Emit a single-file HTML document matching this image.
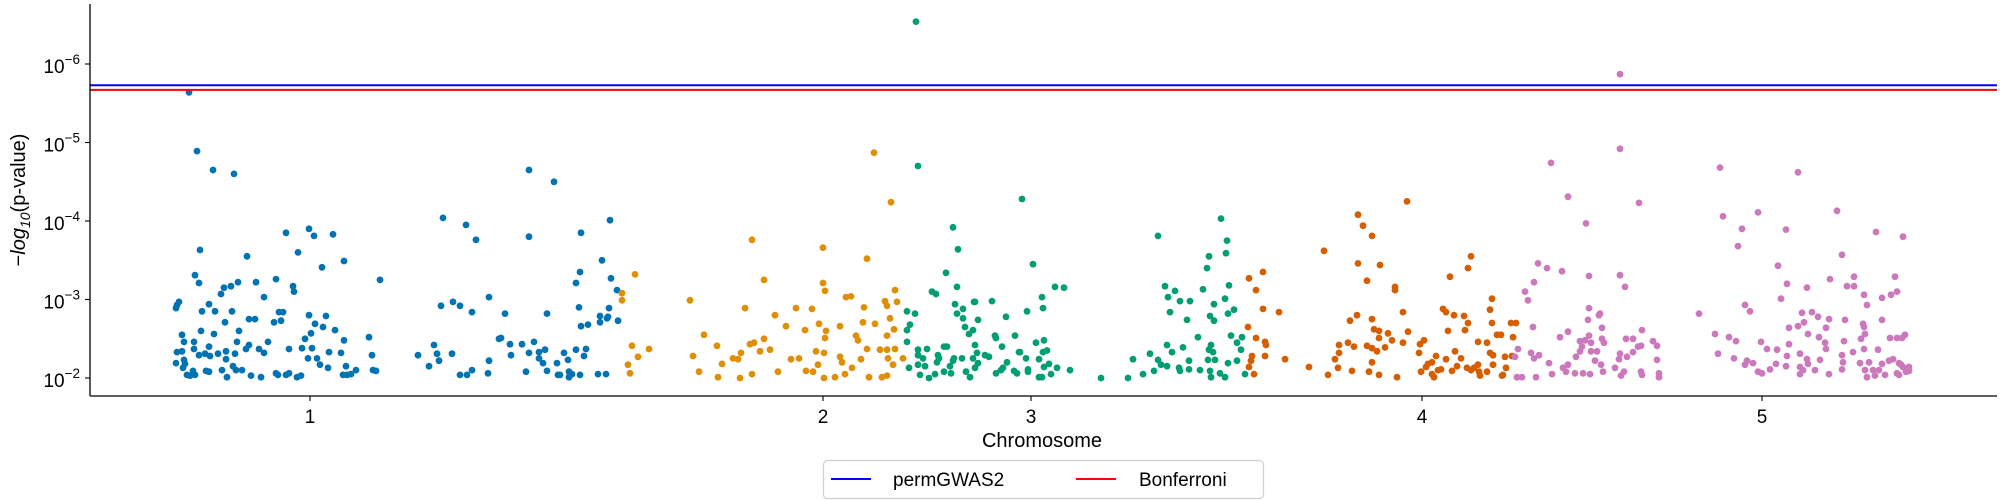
<!DOCTYPE html>
<html>
<head>
<meta charset="utf-8">
<style>
  html, body { margin: 0; padding: 0; background: #fff; }
  svg { display: block; font-family: "Liberation Sans", "DejaVu Sans", sans-serif; }
</style>
</head>
<body>
<svg id="chart" width="2000" height="500" viewBox="0 0 2000 500" xmlns="http://www.w3.org/2000/svg">
  <g id="points"></g>
  <g id="thresholds"></g>
  <g id="axes"></g>
  <g id="legend"></g>
</svg>
<script>
// ---- data (position in Mb cumulative, log10 p-value) ----
const chromosomes = ["1", "2", "3", "4", "5"];
const chromTickPositions = [22.0, 73.3, 94.1, 133.2, 167.2];
const yTickValues = [-2, -3, -4, -5, -6];
const thresholdNames = ["permGWAS2", "Bonferroni"];
const thresholdValues = [-5.73, -5.67];
const chromColors = ["#0173b2", "#de8f05", "#029e73", "#d55e00", "#cc78bc"];
const thresholdColors = ["#0000ff", "#ff0000"];

const chr1Points = [[9.9,-5.64],[10.7,-4.89],[12.3,-4.65],[14.4,-4.60],[35.3,-4.04],[37.6,-3.95],[38.6,-3.76],[43.9,-3.80],[43.9,-4.65],[46.4,-4.50],[21.9,-3.90],[19.6,-3.85],[22.4,-3.81],[24.3,-3.83],[11.0,-3.63],[15.7,-3.55],[20.8,-3.60],[25.4,-3.49],[23.2,-3.41],[10.5,-3.31],[10.9,-3.21],[18.6,-3.26],[29.0,-3.25],[16.6,-3.22],[14.8,-3.22],[14.1,-3.17],[13.4,-3.15],[20.3,-3.17],[20.4,-3.10],[13.1,-3.07],[17.4,-3.03],[39.9,-3.03],
[8.6,-2.89],[8.7,-2.93],[8.9,-2.97],[11.9,-2.94],[11.2,-2.85],[12.5,-2.85],[14.2,-2.85],[13.5,-2.71],[15.9,-2.75],[16.5,-2.75],[18.4,-2.71],[18.9,-2.84],[19.3,-2.84],[19.1,-2.73],[21.9,-2.80],[23.6,-2.79],[22.5,-2.69],[11.1,-2.60],[12.4,-2.56],[9.2,-2.55],[14.9,-2.60],[22.1,-2.57],[23.3,-2.65],[24.5,-2.61],[25.4,-2.48],[27.9,-2.52],[21.5,-2.50],[17.8,-2.46],[14.7,-2.46],[15.9,-2.42],[9.4,-2.46],[10.4,-2.46],[11.9,-2.40],[8.7,-2.33],[9.2,-2.34],[10.4,-2.37],[10.9,-2.29],[11.5,-2.31],[12.0,-2.28],[12.8,-2.31],[13.6,-2.34],[14.5,-2.31],[15.6,-2.37],[16.9,-2.37],[17.4,-2.32],[19.9,-2.37],[21.2,-2.38],[22.2,-2.38],[21.8,-2.25],[22.7,-2.25],[23.9,-2.33],[25.1,-2.32],[28.2,-2.29],[8.6,-2.19],[9.4,-2.23],[9.5,-2.18],[9.3,-2.13],[13.6,-2.24],[14.3,-2.15],[14.6,-2.10],[15.2,-2.10],[13.2,-2.10],[11.6,-2.09],[11.9,-2.08],[9.7,-2.04],[10.0,-2.03],[10.5,-2.04],[10.3,-2.09],[13.7,-2.01],[16.1,-2.03],[17.1,-2.01],[18.6,-2.06],[18.8,-2.04],[19.6,-2.04],[19.9,-2.06],[20.7,-2.01],[21.1,-2.03],[23.0,-2.17],[23.8,-2.13],[25.6,-2.15],[25.3,-2.04],[25.7,-2.04],[26.1,-2.05],[26.6,-2.10],[28.3,-2.10],[28.6,-2.09],
[32.8,-2.29],[33.9,-2.15],[34.4,-2.42],[34.7,-2.31],[34.9,-2.22],[35.1,-2.92],[36.3,-2.97],[37.0,-2.92],[36.2,-2.31],[37.0,-2.04],[37.7,-2.04],[38.2,-2.10],[38.2,-2.84],[39.9,-2.22],[39.8,-2.06],[40.9,-2.50],[41.1,-2.51],[41.5,-2.82],[42.0,-2.43],[42.1,-2.29],[43.2,-2.43],[43.6,-2.08],[43.9,-2.32],[44.4,-2.46],[44.9,-2.33],[44.9,-2.25],[45.3,-2.19],[45.5,-2.36],[45.7,-2.82],[45.7,-2.09],[46.7,-2.19],[46.8,-2.04],
[49.1,-3.85],[52.0,-4.01],[51.2,-3.50],[49.0,-3.35],[48.6,-3.21],[52.1,-3.27],[52.7,-3.12],[48.9,-2.90],[51.9,-2.89],[51.0,-2.79],[51.8,-2.78],[51.7,-2.76],[51.0,-2.71],[52.8,-2.73],[49.1,-2.66],[49.8,-2.68],[47.4,-2.32],[48.6,-2.36],[49.6,-2.37],[49.4,-2.28],[47.8,-2.23],[47.0,-2.04],[47.9,-2.08],[48.2,-2.05],[47.9,-2.01],[49.0,-2.04],[50.8,-2.05],[51.6,-2.05]];

const chr2Points = [[78.4,-4.87],[80.1,-4.24],[66.2,-3.76],[73.3,-3.66],[77.7,-3.52],[54.5,-3.32],[67.4,-3.25],[73.3,-3.21],[73.5,-3.11],[75.6,-3.03],[76.1,-3.04],[80.5,-3.12],[79.5,-2.98],[79.7,-2.92],[80.7,-2.97],[77.4,-2.90],[60.0,-2.99],[65.5,-2.89],[70.6,-2.89],[72.2,-2.88],[68.5,-2.80],[53.2,-3.08],[53.2,-2.99],[80.0,-2.76],
[69.6,-2.66],[72.9,-2.69],[71.5,-2.61],[73.6,-2.60],[75.0,-2.66],[77.3,-2.71],[78.5,-2.69],[80.4,-2.62],[79.7,-2.54],[76.6,-2.54],[76.8,-2.48],[73.5,-2.51],[61.4,-2.55],[62.7,-2.41],[66.0,-2.43],[66.4,-2.45],[67.4,-2.50],[67.0,-2.34],[68.0,-2.36],[54.2,-2.41],[55.9,-2.37],[54.8,-2.27],[60.3,-2.28],[63.2,-2.18],[64.3,-2.25],[64.8,-2.24],[65.1,-2.32],[70.1,-2.24],[70.9,-2.25],[72.6,-2.34],[73.4,-2.32],[75.0,-2.27],[75.2,-2.20],[77.1,-2.24],[77.7,-2.37],[79.0,-2.36],[79.7,-2.36],[79.8,-2.25],[80.5,-2.37],[81.3,-2.25],[80.3,-2.17],[53.8,-2.17],[54.0,-2.06],[60.9,-2.08],[62.8,-2.01],[65.0,-2.00],[66.2,-2.05],[68.8,-2.08],[71.6,-2.09],[72.3,-2.08],[72.8,-2.17],[73.4,-2.00],[74.5,-2.01],[75.5,-2.05],[76.2,-2.13],[77.9,-2.01],[79.2,-2.01],[79.7,-2.03]];

const chr3Points = [[82.6,-6.54],[82.8,-4.70],[86.3,-3.92],[86.8,-3.64],[85.6,-3.34],[86.7,-3.16],[84.2,-3.10],[84.6,-3.07],[86.5,-2.94],[87.3,-2.88],[88.4,-2.97],[81.7,-2.85],[82.5,-2.82],[86.7,-2.82],
[93.2,-4.28],[94.3,-3.45],[96.5,-3.16],[97.4,-3.15],[95.2,-3.03],[95.3,-2.89],[93.7,-2.85],[90.2,-2.98],[88.5,-2.97],[91.6,-2.78],[106.8,-3.81],[113.1,-4.03],[113.7,-3.75],[113.6,-3.59],[111.9,-3.55],[111.7,-3.40],[107.5,-3.17],[107.8,-3.03],[108.5,-3.11],[109.0,-2.98],[110.0,-2.98],[111.3,-3.13],[113.9,-3.18],[113.5,-3.01],[112.4,-2.94],[108.0,-2.84],[114.4,-2.87],[113.8,-2.82],[112.0,-2.79],
[93.0,-2.33],[93.6,-2.25],[93.8,-2.11],[94.6,-2.45],[94.9,-2.24],[95.2,-2.01],[95.3,-2.33],[95.4,-2.48],[95.7,-2.35],[95.9,-2.18],[95.4,-2.14],[96.1,-2.05],[96.7,-2.13],[98.0,-2.10],[101.1,-2.00],[103.8,-2.00],[104.3,-2.24],[105.3,-2.05],[106.0,-2.31],[106.4,-2.09],[106.8,-2.23],[107.1,-2.17],[107.7,-2.42],[107.7,-2.15],[108.2,-2.33],[108.9,-2.13],[109.0,-2.09],[109.3,-2.39],[109.9,-2.22],[109.9,-2.11],[109.7,-2.74],[110.8,-2.52],[111.0,-2.10],[111.8,-2.23],[111.9,-2.36],[112.1,-2.42],[112.3,-2.33],[112.5,-2.23],[112.0,-2.09],[112.1,-2.01],[113.0,-2.06],[113.5,-2.01],[113.8,-2.19],[114.1,-2.54],[114.7,-2.45],[114.7,-2.22],[115.1,-2.36],[115.2,-2.52],[115.5,-2.05],[112.4,-2.73],
[82.0,-2.68],[81.7,-2.61],[81.7,-2.46],[81.9,-2.13],[83.0,-2.04],[82.8,-2.36],[82.8,-2.29],[83.3,-2.25],[83.7,-2.37],[82.8,-2.17],[83.5,-2.15],[83.9,-2.00],[84.5,-2.05],[84.8,-2.29],[84.9,-2.25],[84.7,-2.20],[85.4,-2.40],[85.7,-2.40],[85.4,-2.08],[86.1,-2.06],[86.0,-2.15],[86.3,-2.22],[86.4,-2.25],[87.2,-2.25],[87.3,-2.76],[87.5,-2.65],[87.9,-2.56],[88.3,-2.61],[88.8,-2.74],[88.5,-2.42],[88.7,-2.32],[88.3,-2.25],[88.8,-2.19],[88.5,-2.13],[87.6,-2.08],[88.0,-2.01],[89.5,-2.29],[89.9,-2.27],[90.5,-2.54],[90.6,-2.51],[91.2,-2.40],[91.7,-2.20],[92.5,-2.54],[92.9,-2.33],[90.6,-2.06],[91.1,-2.10],[91.3,-2.13],[92.4,-2.09],[92.7,-2.06],[93.8,-2.08],[94.9,-2.01]];

const chr4Points = [[126.8,-4.08],[127.3,-3.94],[128.2,-3.81],[131.7,-4.25],[123.4,-3.62],[126.8,-3.46],[129.0,-3.44],[115.9,-3.27],[117.3,-3.35],[116.6,-3.12],[127.7,-3.24],[130.5,-3.16],[130.5,-3.12],[136.0,-3.29],[117.3,-2.88],[118.9,-2.84],[126.7,-2.80],[131.3,-2.84],[135.3,-2.88],[135.6,-2.84],[136.4,-2.80],
[115.8,-2.65],[116.6,-2.51],[117.5,-2.46],[117.6,-2.42],[117.5,-2.28],[116.2,-2.28],[116.1,-2.22],[115.9,-2.14],[116.4,-2.05],[119.5,-2.24],[121.9,-2.14],[123.8,-2.04],[124.5,-2.24],[124.8,-2.13],[124.9,-2.32],[124.9,-2.42],[125.8,-2.45],[126.0,-2.73],[126.2,-2.09],[126.4,-2.40],[127.7,-2.41],[128.2,-2.38],[128.2,-2.75],[128.4,-2.62],[128.9,-2.60],[128.9,-2.51],[128.7,-2.34],[128.2,-2.20],[127.9,-2.08],[128.9,-2.04],[129.5,-2.39],[129.8,-2.57],[130.2,-2.48],[130.7,-2.01],[131.3,-2.45],[131.8,-2.59],[132.9,-2.32],[133.0,-2.43],[133.4,-2.48],[133.1,-2.08],[133.6,-2.14],[133.8,-2.18],[134.2,-2.20],[134.6,-2.28],[134.2,-2.05],[134.4,-2.01],[134.8,-2.10],[135.1,-2.11],[135.6,-2.24],[135.8,-2.60],[136.2,-2.09],[136.5,-2.34],[136.7,-2.15],[137.1,-2.25],[137.4,-2.79],[137.5,-2.61],[137.8,-2.70],[137.8,-3.40],[138.1,-3.55],[137.7,-2.13],[138.1,-2.10],[138.4,-2.13],[138.8,-2.46],[138.8,-2.17],[138.9,-2.08],[139.0,-2.03],[139.7,-2.08],[139.7,-2.45],[140.0,-2.32],[140.3,-2.29],[140.0,-2.87],[140.2,-3.01],[140.2,-2.70],[140.3,-2.17],[140.7,-2.55],[141.1,-2.55],[141.2,-2.03],[141.5,-2.27],[141.6,-2.13],[142.1,-2.70],[142.6,-2.70],[142.3,-2.52],[142.2,-2.28],[141.3,-2.04]];

const chr5Points = [[153.0,-5.87],[153.0,-4.92],[146.1,-4.74],[147.8,-4.31],[154.9,-4.23],[149.6,-3.97],[163.0,-4.68],[170.8,-4.62],[163.3,-4.06],[166.8,-4.11],[174.7,-4.13],[165.2,-3.90],[169.6,-3.89],[178.6,-3.86],[181.3,-3.80],[164.8,-3.68],[175.2,-3.57],[168.8,-3.43],[144.8,-3.46],[145.7,-3.40],[147.2,-3.36],[149.9,-3.30],[153.0,-3.31],[153.5,-3.16],[144.4,-3.22],[143.5,-3.10],[143.8,-2.99],[149.9,-2.89],[151.0,-2.82],[160.9,-2.82],[165.5,-2.93],[166.0,-2.85],[169.1,-3.01],[169.7,-3.20],[171.7,-3.15],[174.0,-3.26],[175.7,-3.17],[176.4,-3.29],[176.4,-3.17],[177.4,-3.06],[177.7,-2.93],[179.2,-3.02],[180.1,-3.06],[180.5,-3.29],[180.7,-3.10],[171.2,-2.83],[172.2,-2.84],[172.8,-2.78],
[142.8,-2.37],[142.5,-2.27],[142.7,-2.01],[143.2,-2.01],[144.1,-2.32],[144.3,-2.65],[144.4,-2.25],[144.9,-2.29],[144.6,-2.01],[145.9,-2.19],[146.2,-2.05],[147.0,-2.52],[147.8,-2.59],[147.3,-2.13],[147.6,-2.08],[147.8,-2.17],[148.6,-2.27],[149.0,-2.47],[149.2,-2.40],[149.0,-2.34],[149.5,-2.48],[149.8,-2.74],[149.9,-2.54],[150.1,-2.45],[150.1,-2.34],[150.7,-2.34],[150.5,-2.22],[151.2,-2.64],[151.2,-2.50],[151.4,-2.45],[151.1,-2.17],[151.3,-2.08],[148.5,-2.06],[149.3,-2.06],[150.0,-2.05],[152.5,-2.13],[152.9,-2.24],[153.0,-2.31],[153.1,-2.03],[153.4,-2.08],[153.6,-2.50],[154.3,-2.50],[153.7,-2.27],[154.3,-2.33],[154.8,-2.40],[155.1,-2.41],[155.2,-2.61],[155.1,-2.08],[155.2,-2.04],[156.3,-2.47],[156.7,-2.41],[156.7,-2.23],[156.9,-2.06],[156.9,-2.01],[150.9,-2.80],
[162.5,-2.56],[162.8,-2.31],[163.9,-2.52],[164.6,-2.47],[164.4,-2.25],[165.7,-2.22],[165.5,-2.17],[166.3,-2.19],[167.1,-2.46],[166.8,-2.08],[167.2,-2.06],[167.7,-2.37],[168.0,-2.11],[168.6,-2.18],[168.7,-2.36],[169.9,-2.64],[169.9,-2.43],[169.7,-2.28],[169.6,-2.15],[170.8,-2.66],[171.4,-2.71],[171.8,-2.56],[172.9,-2.52],[173.5,-2.45],[173.6,-2.64],[173.6,-2.37],[173.9,-2.75],[171.0,-2.31],[171.7,-2.24],[171.8,-2.18],[171.0,-2.14],[171.3,-2.10],[171.0,-2.05],[172.5,-2.10],[173.0,-2.23],[173.9,-2.05],[175.5,-2.74],[175.4,-2.47],[175.2,-2.29],[175.3,-2.20],[175.2,-2.11],[176.3,-2.33],[177.0,-2.19],[177.3,-2.69],[177.4,-2.65],[177.5,-2.56],[177.1,-2.50],[177.4,-2.37],[177.9,-2.20],[177.5,-2.10],[178.3,-2.10],[177.7,-2.01],[178.5,-2.03],[178.8,-2.36],[178.9,-2.10],[179.2,-2.74],[179.2,-2.18],[179.5,-2.04],[180.0,-2.51],[180.7,-2.51],[181.2,-2.51],[181.5,-2.55],[179.9,-2.22],[180.3,-2.24],[180.9,-2.19],[181.1,-2.17],[181.3,-2.14],[180.7,-2.06],[180.9,-2.04],[181.6,-2.08],[181.9,-2.14],[181.9,-2.09]];

const allChromPoints = [chr1Points, chr2Points, chr3Points, chr4Points, chr5Points];

// ---- layout / scales ----
const NS = "http://www.w3.org/2000/svg";
const plotLeft = 90, plotRight = 1997, plotTop = 4, plotBottom = 396;
const xMin = 0, xMax = 190.7;
const yAtMinus2 = 378, pxPerDecade = 78.5;
function xScale(pos) { return plotLeft + (pos - xMin) / (xMax - xMin) * (plotRight - plotLeft); }
function yScale(v) { return yAtMinus2 + (v + 2) * pxPerDecade; }

function mk(tag, attrs, parent) {
  const el = document.createElementNS(NS, tag);
  for (const k in attrs) el.setAttribute(k, attrs[k]);
  parent.appendChild(el);
  return el;
}

const gPoints = document.getElementById("points");
allChromPoints.forEach(function (pts, ci) {
  const g = mk("g", { fill: chromColors[ci] }, gPoints);
  
  
  pts.forEach(function (p) {
    const c = mk("circle", { cx: xScale(p[0]).toFixed(1), cy: yScale(p[1]).toFixed(1), r: 3.4 }, g);
    
    
  });
});

const gThr = document.getElementById("thresholds");
thresholdValues.forEach(function (v, i) {
  const ln = mk("line", { x1: plotLeft, x2: plotRight, y1: yScale(v), y2: yScale(v), stroke: thresholdColors[i], "stroke-width": 2 }, gThr);
  
  
});

const gAx = document.getElementById("axes");
const ySpine = mk("line", { x1: plotLeft, x2: plotLeft, y1: plotTop, y2: plotBottom, stroke: "#000", "stroke-width": 1.3 }, gAx);


const xSpine = mk("line", { x1: plotLeft, x2: plotRight, y1: plotBottom, y2: plotBottom, stroke: "#000", "stroke-width": 1.3 }, gAx);



yTickValues.forEach(function (v) {
  const y = yScale(v);
  const t = mk("line", { x1: plotLeft - 5, x2: plotLeft, y1: y, y2: y, stroke: "#000", "stroke-width": 1.1 }, gAx);
  
  
  const lab = mk("text", { x: 80, y: y + 9, "text-anchor": "end", "font-size": 19, fill: "#000" }, gAx);
  
  
  const base = mk("tspan", {}, lab);
  base.textContent = "10";
  const sup = mk("tspan", { dy: -9, "font-size": 13.5 }, lab);
  sup.textContent = "\u2212" + Math.abs(v);
});

chromTickPositions.forEach(function (p, i) {
  const x = xScale(p);
  const t = mk("line", { x1: x, x2: x, y1: plotBottom, y2: plotBottom + 5, stroke: "#000", "stroke-width": 1.1 }, gAx);
  
  
  const lab = mk("text", { x: x, y: 423, "text-anchor": "middle", "font-size": 19, fill: "#000" }, gAx);
  
  
  lab.textContent = chromosomes[i];
});

const xTitle = mk("text", { x: 1042, y: 447, "text-anchor": "middle", "font-size": 20, fill: "#000" }, gAx);


xTitle.textContent = "Chromosome";

const yTitle = mk("text", { x: 0, y: 0, "text-anchor": "middle", "font-size": 20, fill: "#000", transform: "translate(25,200) rotate(-90)" }, gAx);


const yt1 = mk("tspan", {}, yTitle); yt1.textContent = "\u2212";
const yt2 = mk("tspan", { "font-style": "italic" }, yTitle); yt2.textContent = "log";
const yt3 = mk("tspan", { "font-style": "italic", "font-size": 14, dy: 5 }, yTitle); yt3.textContent = "10";
const yt4 = mk("tspan", { dy: -5 }, yTitle); yt4.textContent = "(p-value)";

// legend
const gLeg = document.getElementById("legend");
const box = mk("rect", { x: 823.5, y: 460.5, width: 440, height: 38, rx: 4, fill: "#fff", stroke: "#d0d0d0", "stroke-width": 1.2 }, gLeg);


const legendLineX = [831, 1076];
const legendTextX = [893, 1139];
thresholdNames.forEach(function (name, i) {
  const ln = mk("line", { x1: legendLineX[i], x2: legendLineX[i] + 40, y1: 479, y2: 479, stroke: thresholdColors[i], "stroke-width": 2 }, gLeg);
  
  
  const tx = mk("text", { x: legendTextX[i], y: 486, "font-size": 19, fill: "#000" }, gLeg);
  
  
  tx.textContent = name;
});
</script>
</body>
</html>
